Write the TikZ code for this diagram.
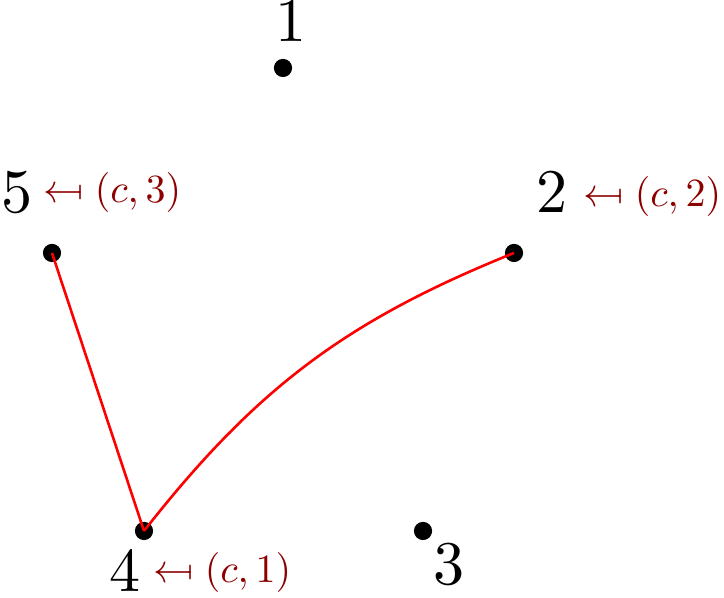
\documentclass[tikz,border=0pt]{standalone}
\usepackage{graphicx}
\definecolor{dr}{RGB}{140,0,0}
\newcommand\mfromarr{\mathrel{\reflectbox{$\mapsto$}}}
\begin{document}
\begin{tikzpicture}[x=0.1538pt,y=-0.1538pt,
  dot/.style={circle,fill=black,inner sep=0pt,minimum size=2.8pt},
  num/.style={anchor=base west,inner sep=0pt,scale=0.955},
  red lbl/.style={anchor=base west,inner sep=0pt,text=dr,scale=0.615},
  edge/.style={red,line width=0.4pt}]
\useasboundingbox (0,0) rectangle (724,598);
\node[dot] (p1) at (283,68) {};
\node[dot] (p2) at (514,253) {};
\node[dot] (p3) at (423,531) {};
\node[dot] (p4) at (144,531) {};
\node[dot] (p5) at (52,253) {};
\node[num] (l1) at (274,42) {$1$};
\node[num] (l2) at (535,213) {$2$};
\node[num] (l3) at (432,585) {$3$};
\node[num] (l4) at (108,592) {$4$};
\node[num] (l5) at (0,213) {$5$};
\node[red lbl] (r2) at (583,207) {$\mfromarr (c,2)$};
\node[red lbl] (r4) at (153,583) {$\mfromarr (c,1)$};
\node[red lbl] (r5) at (43,203) {$\mfromarr (c,3)$};
\draw[edge] (p5.center) -- (p4.center);
\draw[edge] (p4.center) to[bend left=15] (p2.center);
\end{tikzpicture}
\end{document}
